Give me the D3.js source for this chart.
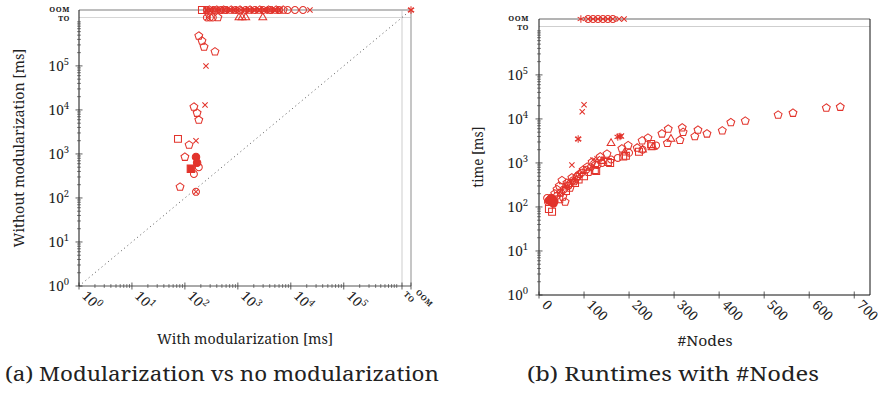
<!DOCTYPE html>
<html>
<head>
<meta charset="utf-8">
<script src="https://cdn.jsdelivr.net/npm/d3@7"></script>
<style>
  body { margin: 0; background: #fff; }
  svg { display: block; }
</style>
</head>
<body>
<svg id="chart" width="881" height="395" font-family="'Noto Serif', 'Liberation Serif', serif"></svg>
<script>
// special "values" for timeouts / out of memory, placed above 10^6
const TO = Math.pow(10, 6.1);
const OOM = Math.pow(10, 6.27);
const val = v => v === "OOM" ? OOM : v === "TO" ? TO : v;

// (a) with modularization [ms] vs without modularization [ms]
const modPentagon = [[183, 4.8e5], [210, 3.7e5], [230, 2.7e5], [370, 2.1e5], [148, 1.17e4], [170, 8.5e3], [183, 5.9e3],
  [120, 1.6e3], [100, 850], [81, 178], [420, "TO"],
  [290, "OOM"], [400, "OOM"], [540, "OOM"], [750, "OOM"], [1100, "OOM"], [1700, "OOM"], [2600, "OOM"], [3800, "OOM"], [5300, "OOM"], [7200, "OOM"]];
const modCircle = [[183, 500], [148, 350], [162, 138], [260, "TO"], [297, "TO"], [337, "TO"],
  [260, "OOM"], [350, "OOM"], [480, "OOM"], [600, "OOM"], [900, "OOM"], [1400, "OOM"], [2100, "OOM"], [3000, "OOM"], [4200, "OOM"], [6000, "OOM"],
  [8700, "OOM"], [1.2e4, "OOM"], [1.7e4, "OOM"]];
const modSquare = [[74, 2.2e3], [210, "OOM"]];
const modSquareFill = [[130, 460]];
const modCircleFill = [[162, 850], [170, 630]];
const modTriangle = [[1050, "TO"], [1200, "TO"], [1410, "TO"], [2960, "TO"]];
const modCross = [[250, 1.0e5], [240, 1.3e4], [162, 2.0e3], [162, 138], [270, "TO"],
  [250, "OOM"], [300, "OOM"], [380, "OOM"], [450, "OOM"], [560, "OOM"], [700, "OOM"], [850, "OOM"], [1000, "OOM"], [1300, "OOM"],
  [1600, "OOM"], [2000, "OOM"], [2500, "OOM"], [3200, "OOM"], [4000, "OOM"], [5000, "OOM"], [6300, "OOM"], [2.3e4, "OOM"], ["OOM", "OOM"]];
const modStar = [[270, "OOM"], [330, "OOM"], [420, "OOM"], [520, "OOM"], [640, "OOM"], [780, "OOM"], [950, "OOM"], [1150, "OOM"],
  [1450, "OOM"], [1800, "OOM"], [2200, "OOM"], [2800, "OOM"], [3600, "OOM"], [4500, "OOM"], [5600, "OOM"], ["OOM", "OOM"]];

// (b) #nodes vs time [ms]
const nodesPentagon = [[669, 1.86e4], [638, 1.78e4], [564, 1.36e4], [531, 1.23e4], [458, 9.0e3], [426, 8.3e3], [407, 5.4e3],
  [373, 4.6e3], [353, 5.6e3], [346, 4.0e3], [320, 5.0e3], [318, 6.3e3], [313, 3.3e3], [287, 5.9e3], [285, 2.8e3], [273, 4.6e3],
  [242, 3.7e3], [229, 3.2e3], [218, 2.2e3], [198, 2.5e3], [184, 2.1e3], [151, 1.6e3], [136, 1.38e3], [118, 1.05e3], [107, 810],
  [98, 690], [84, 480], [73, 460], [62, 350], [51, 400], [69, 270], [53, 170], [58, 130], [45, 300], [40, 250], [35, 200],
  [110, 620], [90, 560], [78, 380], [66, 320], [48, 210], [125, 900]];
const nodesCircle = [[18, 160], [25, 150], [30, 140], [40, 180], [55, 250], [65, 300], [75, 400], [85, 500], [95, 600], [105, 700],
  [115, 800], [130, 900], [140, 1000], [160, 1200], [175, 1300], [200, 1700], [230, 2000], [260, 2500], [20, 130], [70, 350],
  [109, "OOM"], [120, "OOM"], [131, "OOM"], [142, "OOM"], [153, "OOM"], [164, "OOM"]];
const nodesSquare = [[249, 2.7e3], [222, 1.8e3], [193, 1.45e3], [187, 1.4e3], [158, 1.0e3], [127, 660], [124, 690], [153, 1050],
  [29, 78], [22, 90], [100, 500], [80, 350], [60, 230], [45, 150], [250, 2.4e3], [88, 420]];
const nodesTriangle = [[160, 2.8e3], [293, 3.5e3], [253, 2.3e3], [190, 1.7e3], [140, 1.1e3], [230, 2.0e3]];
const nodesCross = [[100, 2.1e4], [96, 1.45e4], [87, 3.5e3], [73, 900], [178, 4.0e3], [183, 4.1e3], [47, 220], [129, 1250],
  [142, 1200], [120, 1170], [60, 300], [80, 400], [90, 550],
  [109, "OOM"], [120, "OOM"], [131, "OOM"], [142, "OOM"], [153, "OOM"], [164, "OOM"], [178, "OOM"], [189, "OOM"]];
const nodesStar = [[87, 3.5e3], [180, 4.0e3], [175, 3.9e3], [60, 270], [35, 150], [93, "OOM"]];
const nodesCircleFill = [[25, 145], [28, 130], [30, 150], [32, 120], [27, 160], [22, 140], [34, 135]];

const xTicksB = [0, 100, 200, 300, 400, 500, 600, 700];
const decades = [0, 1, 2, 3, 4, 5];

const RED = "#e2332b";
const INK = "#222";
const svg = d3.select("#chart");

// marker shapes as d3.symbol types, size = radius^2
const sym = {
  pentagon: { draw(c, s) { const r = Math.sqrt(s); for (let k = 0; k < 5; k++) { const a = -Math.PI / 2 + k * 2 * Math.PI / 5;
      k ? c.lineTo(r * Math.cos(a), r * Math.sin(a)) : c.moveTo(r * Math.cos(a), r * Math.sin(a)); } c.closePath(); } },
  circle: { draw(c, s) { const r = Math.sqrt(s); c.moveTo(r, 0); c.arc(0, 0, r, 0, 2 * Math.PI); } },
  square: { draw(c, s) { const r = Math.sqrt(s); c.rect(-r, -r, 2 * r, 2 * r); } },
  triangle: { draw(c, s) { const r = Math.sqrt(s); c.moveTo(0, -r); c.lineTo(r * 0.87, r * 0.5); c.lineTo(-r * 0.87, r * 0.5); c.closePath(); } },
  cross: { draw(c, s) { const r = Math.sqrt(s); c.moveTo(-r, -r); c.lineTo(r, r); c.moveTo(r, -r); c.lineTo(-r, r); } },
  star: { draw(c, s) { const r = Math.sqrt(s); for (let k = 0; k < 3; k++) { const a = Math.PI / 2 + k * Math.PI / 3;
      c.moveTo(r * Math.cos(a), r * Math.sin(a)); c.lineTo(-r * Math.cos(a), -r * Math.sin(a)); } } }
};

function plotSeries(g, data, x, y, type, size, filled) {
  g.append("g").selectAll("path").data(data).join("path")
    .attr("transform", d => `translate(${x(val(d[0]))},${y(val(d[1]))})`)
    .attr("d", d3.symbol().type(sym[type]).size(size))
    .attr("fill", filled ? RED : "none")
    .attr("stroke", RED)
    .attr("stroke-width", 1.05);
}

function logTicks(maxV) {
  const major = [], minor = [];
  for (let e = 0; e <= 6; e++) {
    const b = Math.pow(10, e);
    if (b <= maxV && e <= 5) major.push(b);
    for (let k = 2; k <= 9; k++) if (k * b <= maxV) minor.push(k * b);
  }
  if (maxV >= 1e6) minor.push(1e6);
  return { major, minor };
}

function yLogAxis(g, y, x0, labelRight) {
  const t = logTicks(TO);
  g.selectAll(null).data(t.minor).join("line")
    .attr("x1", x0 - 2).attr("x2", x0 + 2).attr("y1", d => y(d)).attr("y2", d => y(d)).attr("stroke", "#333").attr("stroke-width", 0.6);
  g.selectAll(null).data(t.major).join("line")
    .attr("x1", x0 - 3.5).attr("x2", x0 + 3.5).attr("y1", d => y(d)).attr("y2", d => y(d)).attr("stroke", "#333").attr("stroke-width", 0.8);
  const lab = g.selectAll(null).data(decades).join("text")
    .attr("x", labelRight).attr("y", e => y(Math.pow(10, e)) + 5).attr("text-anchor", "end").attr("font-size", 13.5).attr("fill", INK);
  lab.append("tspan").text("10");
  lab.append("tspan").attr("dy", -6).attr("font-size", 9.5).text(e => e);
  g.append("text").attr("x", labelRight + 1).attr("y", y(OOM) + 2).attr("text-anchor", "end").attr("fill", INK)
    .attr("font-size", 7.5).attr("font-weight", "bold").attr("letter-spacing", 0.6).text("OOM");
  g.append("text").attr("x", labelRight + 1).attr("y", y(TO) + 4).attr("text-anchor", "end").attr("fill", INK)
    .attr("font-size", 7.5).attr("font-weight", "bold").attr("letter-spacing", 0.6).text("TO");
}

// rotated x tick label
function xLabel(g, px, py, parts, small) {
  const t = g.append("text").attr("transform", `translate(${px + 5},${py + 8}) rotate(45)`).attr("fill", INK)
    .attr("dy", small ? "0.35em" : "0.3em").attr("font-size", small ? 7.5 : 13.5);
  if (small) { t.attr("font-weight", "bold").attr("letter-spacing", 0.6).text(parts); return; }
  t.append("tspan").text(parts[0]);
  if (parts[1] !== undefined) t.append("tspan").attr("dy", -6).attr("font-size", 9.5).text(parts[1]);
}

// ---------- (a) ----------
(function () {
  const x = d3.scaleLog().domain([1, OOM]).range([79, 411]);
  const y = d3.scaleLog().domain([1, OOM]).range([286, 10]);
  const g = svg.append("g");

  // frame and TO guide lines
  g.append("line").attr("x1", x(1)).attr("x2", x(OOM)).attr("y1", y(TO)).attr("y2", y(TO)).attr("stroke", "#d6d6d6").attr("stroke-width", 1.2);
  g.append("line").attr("x1", x(TO)).attr("x2", x(TO)).attr("y1", y(1)).attr("y2", y(OOM)).attr("stroke", "#d6d6d6").attr("stroke-width", 1.2);
  g.append("line").attr("x1", x(1)).attr("x2", x(OOM)).attr("y1", y(OOM)).attr("y2", y(OOM)).attr("stroke", "#a8a8a8").attr("stroke-width", 1.3);
  g.append("line").attr("x1", x(OOM)).attr("x2", x(OOM)).attr("y1", y(1)).attr("y2", y(OOM)).attr("stroke", "#a8a8a8").attr("stroke-width", 1.3);
  g.append("line").attr("x1", x(1)).attr("x2", x(OOM)).attr("y1", y(1)).attr("y2", y(1)).attr("stroke", "#555").attr("stroke-width", 1);
  g.append("line").attr("x1", x(1)).attr("x2", x(1)).attr("y1", y(1)).attr("y2", y(OOM)).attr("stroke", "#111").attr("stroke-width", 1);

  // diagonal
  g.append("path").datum([1, OOM * 0.85])
    .attr("d", d3.line().x(d => x(d)).y(d => y(d)))
    .attr("stroke", "#555").attr("stroke-width", 1).attr("stroke-dasharray", "1,3.2").attr("fill", "none");

  yLogAxis(g, y, x(1), 69);

  const t = logTicks(TO);
  g.selectAll(null).data(t.minor).join("line")
    .attr("x1", d => x(d)).attr("x2", d => x(d)).attr("y1", y(1) - 2).attr("y2", y(1) + 2).attr("stroke", "#333").attr("stroke-width", 0.6);
  g.selectAll(null).data(t.major.concat([TO, OOM])).join("line")
    .attr("x1", d => x(d)).attr("x2", d => x(d)).attr("y1", y(1) - 3.5).attr("y2", y(1) + 3.5).attr("stroke", "#333").attr("stroke-width", 0.8);
  decades.forEach(e => xLabel(g, x(Math.pow(10, e)), y(1), ["10", e]));
  xLabel(g, x(TO) - 2, y(1) - 1, "TO", true);
  xLabel(g, x(OOM) + 1, y(1) - 3, "OOM", true);

  plotSeries(g, modPentagon, x, y, "pentagon", 17, false);
  plotSeries(g, modCircle, x, y, "circle", 12, false);
  plotSeries(g, modSquare, x, y, "square", 12, false);
  plotSeries(g, modSquareFill, x, y, "square", 14, true);
  plotSeries(g, modCircleFill, x, y, "circle", 14, true);
  plotSeries(g, modTriangle, x, y, "triangle", 20, false);
  plotSeries(g, modCross, x, y, "cross", 7, false);
  plotSeries(g, modStar, x, y, "star", 14, false);

  g.append("text").attr("transform", "translate(24,148) rotate(-90)").attr("text-anchor", "middle").attr("fill", INK)
    .attr("font-size", 13.5).attr("textLength", 199).attr("lengthAdjust", "spacingAndGlyphs").text("Without modularization [ms]");
  g.append("text").attr("x", 245).attr("y", 344).attr("text-anchor", "middle").attr("fill", INK)
    .attr("font-size", 13.5).attr("textLength", 176).attr("lengthAdjust", "spacingAndGlyphs").text("With modularization [ms]");
  g.append("text").attr("x", 5).attr("y", 381).attr("font-size", 19.5).attr("fill", INK)
    .attr("textLength", 434).attr("lengthAdjust", "spacingAndGlyphs").text("(a) Modularization vs no modularization");
})();

// ---------- (b) ----------
(function () {
  const x = d3.scaleLinear().domain([0, 735]).range([539, 870]);
  const y = d3.scaleLog().domain([1, OOM]).range([295, 19]);
  const g = svg.append("g");

  g.append("line").attr("x1", x(0)).attr("x2", x(735)).attr("y1", y(TO)).attr("y2", y(TO)).attr("stroke", "#cfcfcf").attr("stroke-width", 1.2);
  g.append("line").attr("x1", x(0)).attr("x2", x(735)).attr("y1", y(OOM)).attr("y2", y(OOM)).attr("stroke", "#9a9a9a").attr("stroke-width", 1.3);
  g.append("line").attr("x1", x(735)).attr("x2", x(735)).attr("y1", y(1)).attr("y2", y(OOM)).attr("stroke", "#111").attr("stroke-width", 1);
  g.append("line").attr("x1", x(0)).attr("x2", x(735)).attr("y1", y(1)).attr("y2", y(1)).attr("stroke", "#111").attr("stroke-width", 1);
  g.append("line").attr("x1", x(0)).attr("x2", x(0)).attr("y1", y(1)).attr("y2", y(OOM)).attr("stroke", "#111").attr("stroke-width", 1);

  yLogAxis(g, y, x(0), 528);

  g.selectAll(null).data(xTicksB).join("line")
    .attr("x1", d => x(d)).attr("x2", d => x(d)).attr("y1", y(1) - 3.5).attr("y2", y(1) + 3.5).attr("stroke", "#333").attr("stroke-width", 0.8);
  xTicksB.forEach(v => xLabel(g, x(v), y(1), [String(v)]));

  plotSeries(g, nodesPentagon, x, y, "pentagon", 17, false);
  plotSeries(g, nodesCircle, x, y, "circle", 12, false);
  plotSeries(g, nodesSquare, x, y, "square", 12, false);
  plotSeries(g, nodesTriangle, x, y, "triangle", 20, false);
  plotSeries(g, nodesCircleFill, x, y, "circle", 14, true);
  plotSeries(g, nodesCross, x, y, "cross", 7, false);
  plotSeries(g, nodesStar, x, y, "star", 14, false);

  g.append("text").attr("transform", "translate(483,157) rotate(-90)").attr("text-anchor", "middle").attr("fill", INK)
    .attr("font-size", 13.5).attr("textLength", 61).attr("lengthAdjust", "spacingAndGlyphs").text("time [ms]");
  g.append("text").attr("x", 705).attr("y", 346).attr("text-anchor", "middle").attr("fill", INK)
    .attr("font-size", 13.5).attr("textLength", 55).attr("lengthAdjust", "spacingAndGlyphs").text("#Nodes");
  g.append("text").attr("x", 673).attr("y", 381).attr("text-anchor", "middle").attr("font-size", 19.5).attr("fill", INK)
    .attr("textLength", 292).attr("lengthAdjust", "spacingAndGlyphs").text("(b) Runtimes with #Nodes");
})();
</script>
</body>
</html>
